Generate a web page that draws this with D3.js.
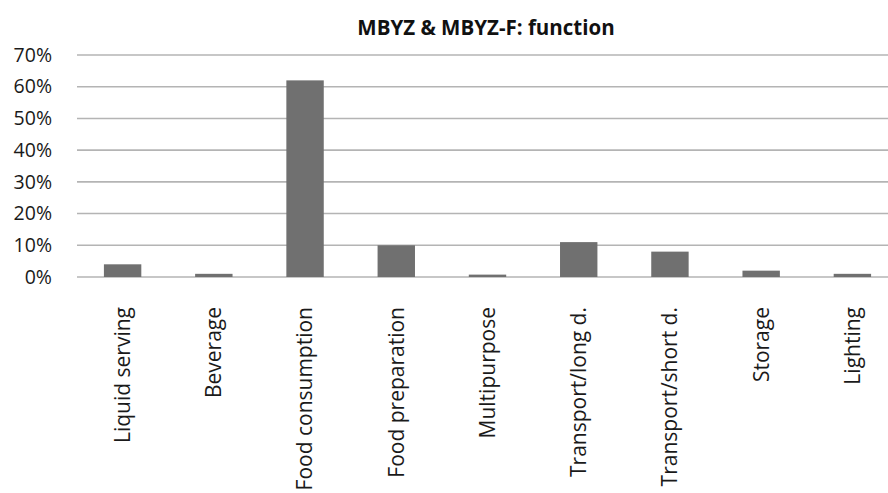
<!DOCTYPE html>
<html><head><meta charset="utf-8">
<script src="https://cdn.jsdelivr.net/npm/d3@7"></script>
<style>html,body{margin:0;padding:0;background:#fff;}svg{display:block;}</style>
</head><body>
<svg id="chart" width="888" height="493"></svg>
<script>
const title = "MBYZ & MBYZ-F: function";
const categories = ["Liquid serving","Beverage","Food consumption","Food preparation","Multipurpose","Transport/long d.","Transport/short d.","Storage","Lighting"];
const values = [0.04, 0.01, 0.62, 0.10, 0.0075, 0.11, 0.08, 0.02, 0.01];
const yTicks = [0, 0.1, 0.2, 0.3, 0.4, 0.5, 0.6, 0.7];

(function(){
const svg = d3.select("#chart");
const font = "'Open Sans', 'Noto Sans', sans-serif";
const mL = 77, mR = 898, mT = 55, mB = 277;

const x = d3.scaleBand().domain(categories).range([mL, mR]).paddingInner(0.59).paddingOuter(0.295);
const y = d3.scaleLinear().domain([0, 0.7]).range([mB, mT]);

svg.append("g").selectAll("line").data(yTicks).join("line")
  .attr("x1", mL).attr("x2", mR)
  .attr("y1", d => y(d)).attr("y2", d => y(d))
  .attr("stroke", "#b4b4b4").attr("stroke-width", 1.6);

const yAxis = d3.axisLeft(y).tickValues(yTicks).tickFormat(d3.format(".0%")).tickSize(0).tickPadding(0);
const gy = svg.append("g").attr("transform", `translate(52,0)`).call(yAxis);
gy.select(".domain").remove();
gy.selectAll("text").attr("font-family", font).attr("font-size", 19.5).attr("fill", "#1a1a1a");

svg.append("g").selectAll("rect").data(categories).join("rect")
  .attr("x", d => x(d)).attr("width", x.bandwidth())
  .attr("y", (d,i) => y(values[i])).attr("height", (d,i) => y(0) - y(values[i]))
  .attr("fill", "#707070");

const xAxis = d3.axisBottom(x).tickSize(0).tickPadding(0);
const gx = svg.append("g").attr("transform", `translate(0,${mB})`).call(xAxis);
gx.select(".domain").remove();
gx.selectAll("text")
  .attr("font-family", font).attr("font-size", 21).attr("fill", "#1a1a1a")
  .attr("transform", "rotate(-90)")
  .attr("text-anchor", "end")
  .attr("x", -30).attr("y", 0).attr("dy", "0.35em");

svg.append("text").attr("x", 486).attr("y", 35)
  .attr("text-anchor", "middle")
  .attr("font-family", font).attr("font-weight", "bold").attr("font-size", 20.5)
  .attr("fill", "#111").text(title);
})();
</script>
</body></html>
